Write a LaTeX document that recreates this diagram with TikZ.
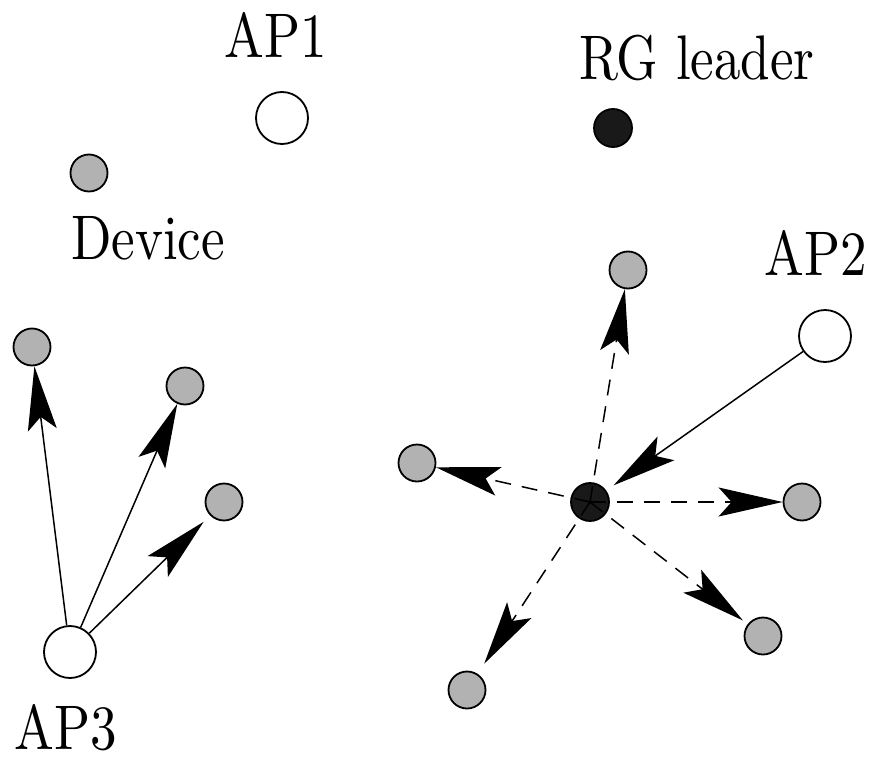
\documentclass[tikz,border=0pt]{standalone}
\usepackage{graphicx}
\usetikzlibrary{arrows.meta}
\newcommand{\tall}[1]{\scalebox{5.3}[6.3]{#1}}

\tikzset{
  ap/.style={circle,draw,line width=1.8pt,fill=white,minimum size=52pt,inner sep=0pt},
  dev/.style={circle,draw,line width=1.8pt,fill=black!30,minimum size=37pt,inner sep=0pt},
  lead/.style={circle,draw,line width=1.8pt,fill=black!90,minimum size=38pt,inner sep=0pt},
  lbl/.style={anchor=base,inner sep=0pt,font=\fontsize{10}{12}\selectfont},
  link/.style={line width=1.5pt,-{Stealth[length=64pt,width=29pt,inset=13pt]}},
  bcast/.style={link,dash pattern=on 16pt off 11pt},
}

\begin{document}
\begin{tikzpicture}[x=1pt,y=-1pt]
			\useasboundingbox (0,0) rectangle (878,760);
			%%%%% legend %%%%%
			\node[ap]   (ap1)  at (282,118) {};
			\node[lead] (rgl)  at (613,128) {};
			\node[dev]  (dev)  at (89,173) {};
			\node[lbl] at (276,58) {\tall{AP1}};
			\node[lbl] at (697,80) {\tall{RG leader}};
			\node[lbl] at (148,259) {\tall{Device}};
			
			%%%%% AP3 group %%%%%
			\node[ap]  (ap3) at (70,652) {};
			\node[dev] (d1)  at (32,347) {};
			\node[dev] (d2)  at (185,386) {};
			\node[dev] (d3)  at (224,502) {};
			\node[lbl] at (66,749) {\tall{AP3}};
			\draw[link] (ap3) -- (d1);
			\draw[link] (ap3) -- (d2);
			\draw[link,shorten >=9pt] (ap3) -- (d3);
			
			%%%%% RG group %%%%%
			\node[ap]   (ap2) at (825,336) {};
			\node[lbl] at (816,275) {\tall{AP2}};
			\node[dev]  (g1)  at (628,270) {};
			\node[dev]  (g2)  at (417,463) {};
			\node[dev]  (g3)  at (802,502) {};
			\node[dev]  (g4)  at (763,636) {};
			\node[dev]  (g5)  at (467,690) {};
			\node[lead] (ctr) at (590,502) {};
			\draw[bcast] (ctr.center) -- (g1);
			\draw[bcast] (ctr.center) -- (g2);
			\draw[bcast] (ctr.center) -- (g3);
			\draw[bcast,shorten >=6pt] (ctr.center) -- (g4);
			\draw[bcast,shorten >=12pt] (ctr.center) -- (g5);
			\draw[link,shorten >=9pt] (ap2) -- (ctr);
			%%%%% END %%%%%
\end{tikzpicture}
\end{document}
